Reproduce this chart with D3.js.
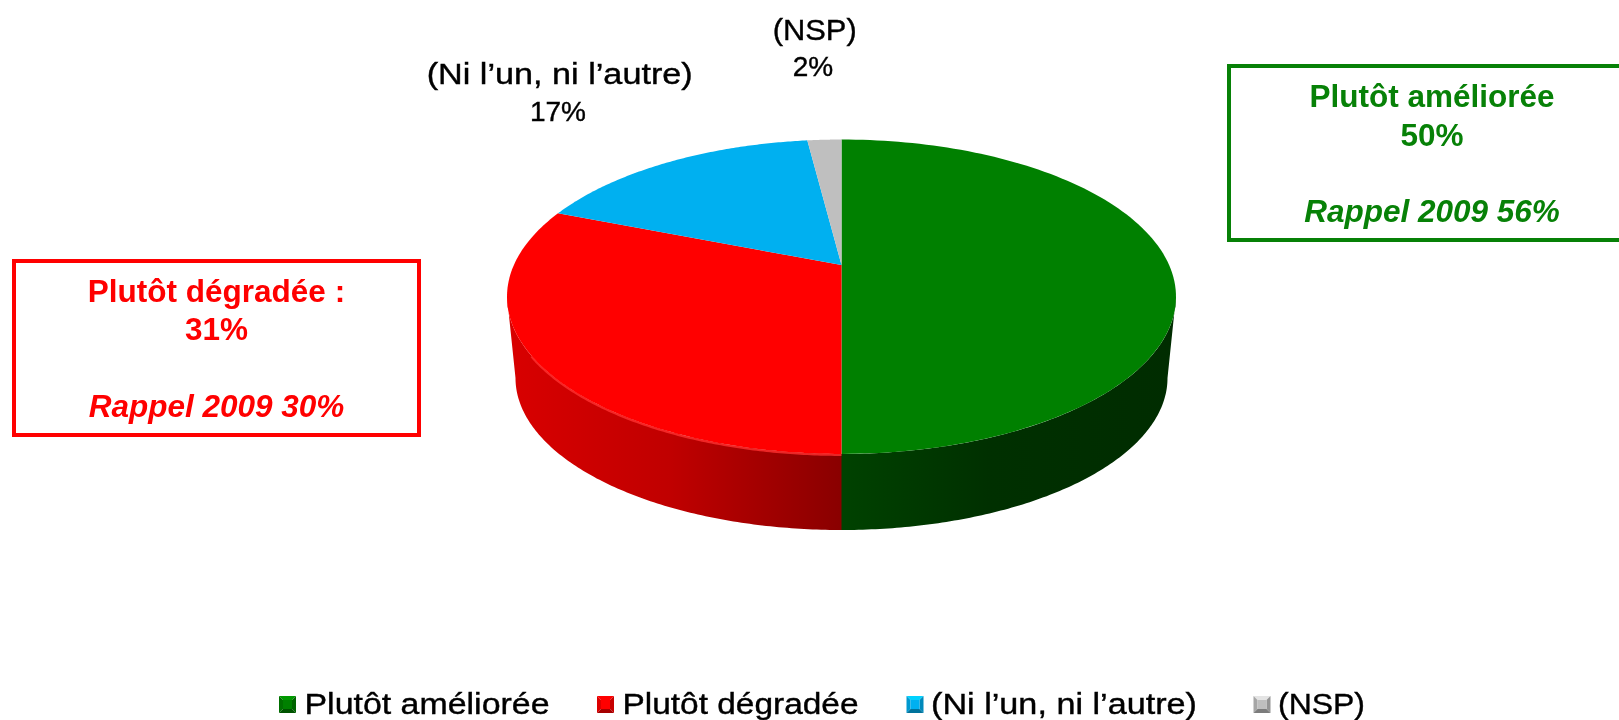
<!DOCTYPE html>
<html><head><meta charset="utf-8">
<script src="https://cdn.jsdelivr.net/npm/d3@7"></script>
<style>html,body{margin:0;padding:0;background:#fff;overflow:hidden}
svg{display:block;filter:blur(0.45px)}
text{font-family:"Liberation Sans",Arial,sans-serif}</style></head>
<body><svg id="c" width="1619" height="720"></svg>
<script>
const categories = ["Plutôt améliorée","Plutôt dégradée","(Ni l’un, ni l’autre)","(NSP)"];
const values = [50,31,17,2];
const colors = ["#008000","#ff0000","#00b0f0","#bfbfbf"];
const sliceLabelNames = ["(Ni l’un, ni l’autre)","(NSP)"];
const sliceLabelValues = ["17%","2%"];
const calloutLines = [
 ["Plutôt améliorée","50%","","Rappel 2009 56%"],
 ["Plutôt dégradée :","31%","","Rappel 2009 30%"]
];
const calloutColors = ["#078107","#ff0000"];

const svg = d3.select("#c");
const defs = svg.append("defs");

// perspective disc geometry
const cx=841.5, ay=265, k=0.2019, a=327.6, b=150.8;
const project=t=>{
  const X=Math.sin(t),Y=Math.cos(t),w=1+k*Y;
  return [cx+a*X/w, ay-b*Y/w];
};
const lowerEll=t=>[cx+326*Math.sin(t), 378-152*Math.cos(t)];
const line=d3.line();
const arcs=d3.pie().sort(null).value(d=>d)(values);
const samples=(s,e,n=120)=>d3.range(0,n+1).map(i=>s+(e-s)*i/n);

function grad(id,stops){
  const g=defs.append("linearGradient").attr("id",id).attr("gradientUnits","userSpaceOnUse")
    .attr("x1",500).attr("x2",1180).attr("y1",0).attr("y2",0);
  stops.forEach(([o,c])=>g.append("stop").attr("offset",o).attr("stop-color",c));
}
grad("gG",[[0.5,"#004200"],[0.72,"#003000"],[1,"#002c00"]]);
grad("gR",[[0,"#da0000"],[0.25,"#c00000"],[0.5,"#8a0000"]]);

// visible side strips: from the widest point of the top face down to the front
const tw=Math.acos(-k), seam=0.003;
const sides=[
  {fill:"url(#gG)",top:[tw,Math.PI],low:[Math.PI,Math.PI/2]},
  {fill:"url(#gR)",top:[Math.PI-seam,2*Math.PI-tw],low:[Math.PI*1.5,Math.PI-seam]}
];
sides.slice().reverse().forEach(s=>{
  const pts=samples(...s.top).map(project).concat(samples(...s.low).map(lowerEll));
  svg.append("path").attr("d",line(pts)+"Z").attr("fill",s.fill);
});
// rim highlight on the red side
svg.append("path").attr("d",line(samples(Math.PI,Math.PI*1.32).map(t=>{const p=project(t);return [p[0],p[1]+1];})))
  .attr("fill","none").attr("stroke","#ff3030").attr("stroke-width",2).attr("opacity",0.8);
// top face
arcs.forEach((d,i)=>{
  const pts=[[cx,ay]].concat(samples(d.startAngle,d.endAngle).map(project));
  svg.append("path").attr("d",line(pts)+"Z").attr("fill",colors[i]);
});

// slice labels
const namePos=[[559.7,84,266],[814.7,40,84]], valPos=[[558,120.7],[813,76]];
sliceLabelNames.forEach((s,i)=>{
  const [x,y,w]=namePos[i];
  svg.append("text").attr("x",x).attr("y",y).attr("text-anchor","middle").attr("font-size",30)
    .attr("textLength",w).attr("lengthAdjust","spacingAndGlyphs")
    .attr("stroke","#000").attr("stroke-width",0.4).text(s);
  svg.append("text").attr("x",valPos[i][0]).attr("y",valPos[i][1]).attr("text-anchor","middle").attr("font-size",28)
    .attr("stroke","#000").attr("stroke-width",0.4).text(sliceLabelValues[i]);
});

// callouts
const boxes=[{x:1229,y:66,w:420,h:174,tx:1432,ty:107},{x:14,y:261,w:405,h:174,tx:216.5,ty:301.7}];
calloutLines.forEach((lines,i)=>{
  const B=boxes[i], col=calloutColors[i];
  svg.append("rect").attr("x",B.x).attr("y",B.y).attr("width",B.w).attr("height",B.h)
    .attr("fill","#fff").attr("stroke",col).attr("stroke-width",4);
  const offs=[0,38.5,77,114.9];
  lines.forEach((s,j)=>{ if(!s) return;
    svg.append("text").attr("x",B.tx).attr("y",B.ty+offs[j]).attr("text-anchor","middle")
      .attr("font-size",31.5).attr("font-weight","bold").attr("font-style",j===3?"italic":"normal")
      .attr("fill",col).text(s);
  });
});

// legend
const legendX=[279,597,906.5,1253.5], textX=[304.5,622.5,931,1278], legendW=[245,236,266,87];
const sw=17, swY=696;
categories.forEach((c,i)=>{
  const g=svg.append("g").attr("transform",`translate(${legendX[i]},${swY})`);
  const col=d3.color(colors[i]);
  const inset=4;
  const tri=(pts,f)=>g.append("path").attr("d",line(pts)+"Z").attr("fill",f);
  tri([[0,0],[sw,0],[sw-inset,inset],[inset,inset]],col.brighter(0.5));
  tri([[0,0],[inset,inset],[inset,sw-inset],[0,sw]],col.darker(0.4));
  tri([[sw,0],[sw,sw],[sw-inset,sw-inset],[sw-inset,inset]],col.darker(0.7));
  tri([[0,sw],[sw,sw],[sw-inset,sw-inset],[inset,sw-inset]],col.darker(1.2));
  g.append("rect").attr("x",inset).attr("y",inset).attr("width",sw-2*inset).attr("height",sw-2*inset).attr("fill",col);
  svg.append("text").attr("x",textX[i]).attr("y",713.5).attr("font-size",30).attr("fill","#000")
    .attr("textLength",legendW[i]).attr("lengthAdjust","spacingAndGlyphs")
    .attr("stroke","#000").attr("stroke-width",0.4).text(c);
});
</script></body></html>
